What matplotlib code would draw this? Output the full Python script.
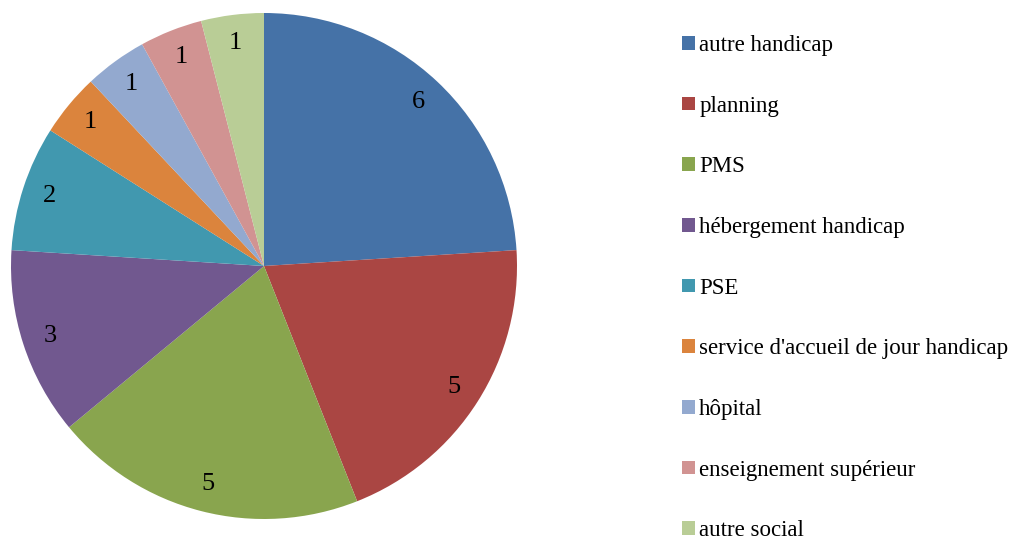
import matplotlib
matplotlib.use('Agg')
import matplotlib.pyplot as plt

labels = ['autre handicap', 'planning', 'PMS', 'hébergement handicap', 'PSE',
          "service d'accueil de jour handicap", 'hôpital',
          'enseignement supérieur', 'autre social']
values = [6, 5, 5, 3, 2, 1, 1, 1, 1]
colors = ['#4572A7', '#AA4643', '#89A54E', '#71588F', '#4198AF',
          '#DB843D', '#93A9CF', '#D19392', '#B9CD96']

plt.rcParams['font.family'] = ['Liberation Serif', 'DejaVu Serif']

W, H = 1010, 538
fig = plt.figure(figsize=(W / 100, H / 100), dpi=100)
cx, cy, r = 264, 266, 253
ax = fig.add_axes([(cx - r) / W, (H - cy - r) / H, 2 * r / W, 2 * r / H])

wedges, texts = ax.pie(values, colors=colors, startangle=90, counterclock=False,
                       labels=[str(v) for v in values], labeldistance=0.89,
                       radius=1, wedgeprops=dict(linewidth=0),
                       textprops=dict(fontsize=19, color='black'))
for t in texts:
    t.set_ha('center')
    t.set_va('center')
ax.set_xlim(-1, 1)
ax.set_ylim(-1, 1)
ax.set_aspect('equal')
ax.axis('off')

leg = fig.legend(wedges, labels, loc='upper left', bbox_to_anchor=(682 / W, 1 - 35 / H),
                 frameon=False, fontsize=16.5, handlelength=0.55, handleheight=0.55,
                 handletextpad=0.2, labelspacing=1.73, borderaxespad=0, borderpad=0)

fig.savefig('out.png', dpi=100)
